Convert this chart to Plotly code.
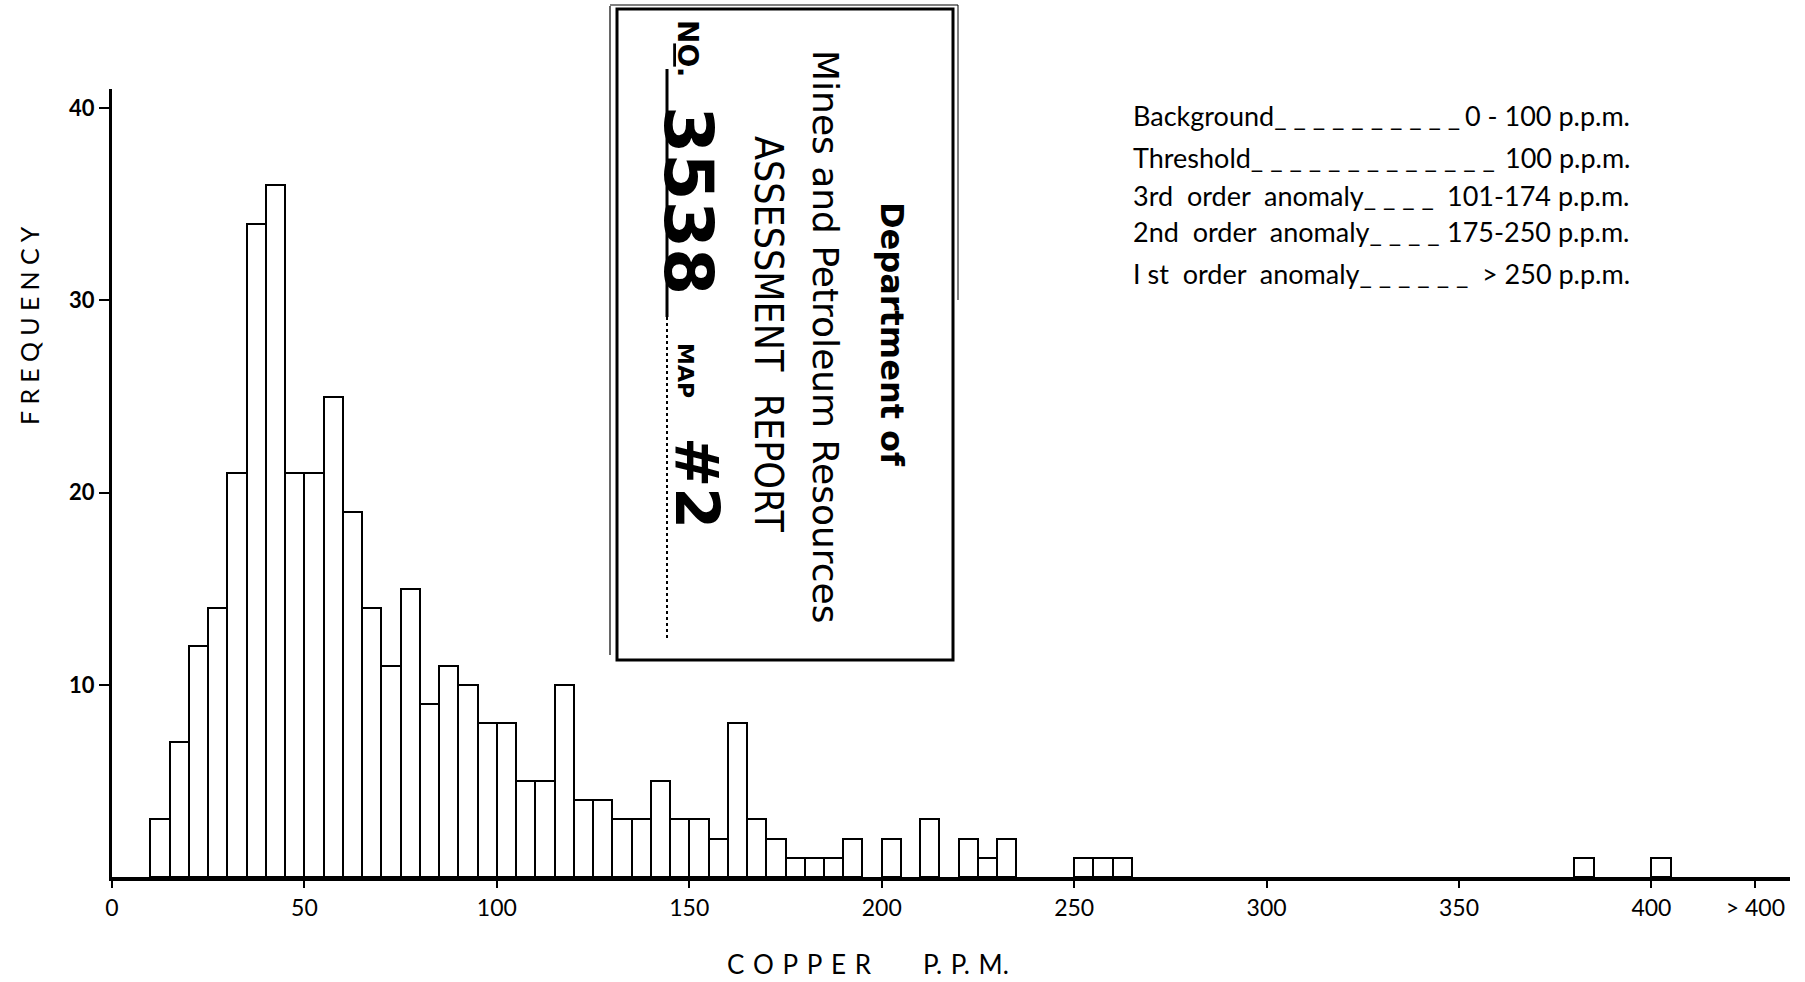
import plotly.graph_objects as go

# ---- data (bin lower edges in ppm, 5 ppm bins) ----
bin_lower = [10, 15, 20, 25, 30, 35, 40, 45, 50, 55, 60, 65, 70, 75, 80, 85, 90, 95,
             100, 105, 110, 115, 120, 125, 130, 135, 140, 145, 150, 155, 160, 165, 170,
             175, 180, 185, 190, 200, 210, 220, 225, 230, 250, 255, 260, 380, 400]
frequency = [3, 7, 12, 14, 21, 34, 36, 21, 21, 25, 19, 14, 11, 15, 9, 11, 10, 8,
             8, 5, 5, 10, 4, 4, 3, 3, 5, 3, 3, 2, 8, 3, 2,
             1, 1, 1, 2, 2, 3, 2, 1, 2, 1, 1, 1, 1, 1]
bin_width = 5

x_tick_vals = [0, 50, 100, 150, 200, 250, 300, 350, 400, 427]
x_tick_text = ["0", "50", "100", "150", "200", "250", "300", "350", "400", "> 400"]
y_tick_vals = [10, 20, 30, 40]

legend_left = ["Background" + "_ " * 9 + "_",
               "Threshold" + "_ " * 12 + "_",
               "3rd  order  anomaly" + "_ " * 3 + "_",
               "2nd  order  anomaly" + "_ " * 3 + "_",
               "I st  order  anomaly" + "_ " * 5 + "_"]
legend_right = ["0 - 100 p.p.m.", "100 p.p.m.", "101-174 p.p.m.",
                "175-250 p.p.m.", "> 250 p.p.m."]

FONT = "Lato"

fig = go.Figure()
fig.add_trace(go.Bar(
    x=bin_lower, y=frequency, width=bin_width, offset=0,
    marker=dict(color="white", line=dict(color="black", width=2)),
    showlegend=False, hoverinfo="x+y",
))

W, H = 1805, 982
ml, mr, mt, mb = 112, 15, 89, 105

fig.update_layout(
    width=W, height=H,
    margin=dict(l=ml, r=mr, t=mt, b=mb),
    paper_bgcolor="white", plot_bgcolor="white",
    bargap=0,
    xaxis=dict(range=[0, 436], tickvals=x_tick_vals, ticktext=x_tick_text,
               showgrid=False, zeroline=False, showline=True, linecolor="black",
               linewidth=4, ticks="outside", ticklen=7, tickwidth=1.5, tickcolor="black",
               tickfont=dict(family=FONT, size=23, color="black")),
    yaxis=dict(range=[0, 41], tickvals=y_tick_vals,
               showgrid=False, zeroline=False, showline=True, linecolor="black",
               linewidth=3, ticks="outside", ticklen=10, tickwidth=1.5, tickcolor="black",
               tickfont=dict(family=FONT, size=22, color="black", weight="bold")),
)

pw = W - ml - mr
ph = H - mt - mb

def px(x):
    return (x - ml) / pw

def py(y):
    return (H - mb - y) / ph

ann = []
# axis titles
ann.append(dict(text="F\u2005R\u2005E\u2005Q\u2005U\u2005E\u2005N\u2005C\u2005Y", textangle=-90,
                x=px(29), y=py(326), xref="paper", yref="paper", showarrow=False,
                xanchor="center", yanchor="middle",
                font=dict(family=FONT, size=25, color="black")))
ann.append(dict(text="C\u2004O\u2004P\u2004P\u2004E\u2004R\u2003\u2003\u2002P.\u2004P.\u2004M.",
                x=px(868), y=py(964), xref="paper", yref="paper", showarrow=False,
                xanchor="center", yanchor="middle",
                font=dict(family=FONT, size=26, color="black")))

# legend text block
ys = [116, 157, 195, 231, 273]
for lt, rt, yy in zip(legend_left, legend_right, ys):
    ann.append(dict(text=lt, x=px(1131), y=py(yy), xref="paper", yref="paper",
                    showarrow=False, xanchor="left", yanchor="middle",
                    font=dict(family=FONT, size=27, color="black")))
    ann.append(dict(text=rt, x=px(1632), y=py(yy), xref="paper", yref="paper",
                    showarrow=False, xanchor="right", yanchor="middle",
                    font=dict(family=FONT, size=27, color="black")))

# stamp texts (rotated, reading top to bottom)
stamp = [
    ("<b>Department of</b>", 892, 334, 32, "DejaVu Sans"),
    ("Mines and Petroleum Resources", 826, 336, 36, "DejaVu Sans"),
    ("ASSESSMENT  REPORT", 769, 334, 39, "DejaVu Sans Condensed"),
    ("<b>N<u>O</u>.</b>", 688, 48, 28, "DejaVu Sans"),
    ("<b>3538</b>", 688, 200, 68, "DejaVu Sans"),
    ("<b>MAP</b>", 686, 370, 22, "DejaVu Sans"),
    ("<b>#2</b>", 697, 483, 60, "DejaVu Sans"),
]
for t, xx, yy, sz, fam in stamp:
    ann.append(dict(text=t, textangle=90, x=px(xx), y=py(yy), xref="paper", yref="paper",
                    showarrow=False, xanchor="center", yanchor="middle",
                    font=dict(family=fam, size=sz, color="black")))

fig.update_layout(annotations=ann)

shapes = []
# stamp box
shapes.append(dict(type="rect", xref="paper", yref="paper",
                   x0=px(617), x1=px(953), y0=py(660), y1=py(9),
                   line=dict(color="black", width=3), fillcolor="rgba(0,0,0,0)"))
shapes.append(dict(type="line", xref="paper", yref="paper",
                   x0=px(610), x1=px(610), y0=py(655), y1=py(6),
                   line=dict(color="black", width=1.2)))
shapes.append(dict(type="line", xref="paper", yref="paper",
                   x0=px(610), x1=px(958), y0=py(5), y1=py(5),
                   line=dict(color="black", width=1.2)))
shapes.append(dict(type="line", xref="paper", yref="paper",
                   x0=px(958), x1=px(958), y0=py(5), y1=py(300),
                   line=dict(color="black", width=1)))
# underline of report number
shapes.append(dict(type="line", xref="paper", yref="paper",
                   x0=px(667), x1=px(667), y0=py(69), y1=py(317),
                   line=dict(color="black", width=3)))
shapes.append(dict(type="line", xref="paper", yref="paper",
                   x0=px(667), x1=px(667), y0=py(317), y1=py(640),
                   line=dict(color="black", width=2, dash="dot")))
fig.update_layout(shapes=shapes)

fig.write_html("out.html", config={"displayModeBar": False},
               post_script="document.body.style.margin='0px';")
